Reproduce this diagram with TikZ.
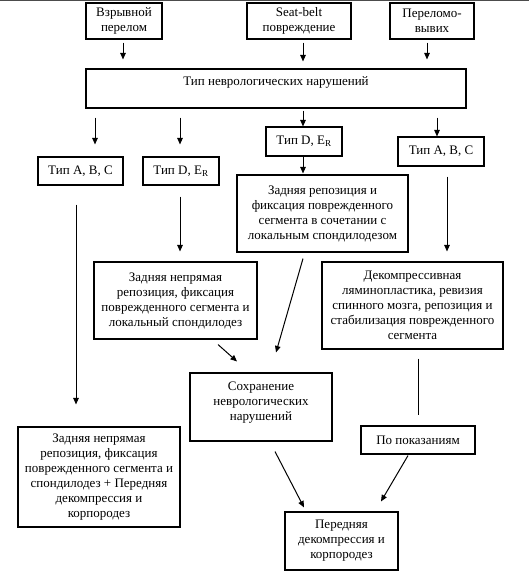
\documentclass[tikz,border=0pt]{standalone}
\usepackage{fontspec}
\setmainfont{Liberation Serif}
\usetikzlibrary{arrows.meta,calc}
\begin{document}
\begin{tikzpicture}[x=1pt,y=-1pt,
  box/.style={draw, line width=1.1pt, inner sep=0pt, align=center, font=\fontsize{13}{15}\selectfont},
  arr/.style={line width=1pt, -{Triangle[length=6.5pt,width=5.5pt]}},
  ln/.style={line width=1pt}]
\useasboundingbox (0,0) rectangle (529,577);
\draw[line width=1.2pt, color=black!70] (0,0.6) -- (529,0.6);

\node[box, minimum width=76pt, minimum height=36pt] (b1) at (124,21) {Взрывной\\перелом};
\node[box, minimum width=104pt, minimum height=36pt] (b2) at (299,21) {Seat-belt\\повреждение};
\node[box, minimum width=84pt, minimum height=36pt] (b3) at (432,21) {Переломо-\\вывих};
\node[box, minimum width=380pt, minimum height=39pt, text height=9pt, text depth=15pt] (T) at (276,88.5) {Тип неврологических нарушений};

\node[box, minimum width=85pt, minimum height=28pt] (tl1) at (80.5,171) {Тип A, B, C};
\node[box, minimum width=76pt, minimum height=28pt] (tl2) at (181,171) {Тип D, E\textsubscript{R}};
\node[box, minimum width=76pt, minimum height=29pt] (tm) at (304,141.5) {Тип D, E\textsubscript{R}};
\node[box, minimum width=86pt, minimum height=29pt] (tr) at (441,151.5) {Тип A, B, C};

\node[box, minimum width=171pt, minimum height=77pt] (zr) at (322.5,213.5) {Задняя репозиция и\\фиксация поврежденного\\сегмента в сочетании с\\локальным спондилодезом};
\node[box, minimum width=163pt, minimum height=77pt] (zn) at (175.5,300.5) {Задняя непрямая\\репозиция, фиксация\\поврежденного сегмента и\\локальный спондилодез};
\node[box, minimum width=181pt, minimum height=87pt] (dk) at (412.5,305.5) {Декомпрессивная\\ляминопластика, ревизия\\спинного мозга, репозиция и\\стабилизация поврежденного\\сегмента};
\node[box, minimum width=142pt, minimum height=68pt, text depth=12pt] (sn) at (261,407) {Сохранение\\неврологических\\нарушений};
\node[box, minimum width=162pt, minimum height=100pt] (bl) at (99,477) {Задняя непрямая\\репозиция, фиксация\\поврежденного сегмента и\\спондилодез + Передняя\\декомпрессия и\\корпородез};
\node[box, minimum width=114pt, minimum height=28pt] (pp) at (418,440) {По показаниям};
\node[box, minimum width=113pt, minimum height=58pt] (pd) at (341.5,541) {Передняя\\декомпрессия и\\корпородез};

% top row to T
\draw[arr] ($(b1.south)+(-1,3)$) -- ($(b1.south |- T.north)+(-1,-9)$);
\draw[arr] ($(b2.south)+(4,3)$) -- ($(b2.south |- T.north)+(4,-7)$);
\draw[arr] ($(b3.south)+(-5,3)$) -- ($(b3.south |- T.north)+(-5,-9)$);
% T to types
\draw[arr] ($(T.south -| tl1.north)+(14.5,9)$) -- ($(tl1.north)+(14.5,-12)$);
\draw[arr] ($(T.south -| tl2.north)+(-1,9)$) -- ($(tl2.north)+(-1,-12)$);
\draw[arr] ($(T.south -| tm.north)+(-1,2)$) -- ($(tm.north)+(-1,0)$);
\draw[arr] ($(T.south -| tr.north)+(-4,9)$) -- ($(tr.north)+(-4,0)$);
% types to treatments
\draw[arr] ($(tm.south)+(-1,0)$) -- ($(tm.south |- zr.north)+(-1,-1)$);
\draw[arr] ($(tl1.south)+(-4.5,19)$) -- ($(tl1.south |- bl.north)+(-4.5,-22)$);
\draw[arr] ($(tl2.south)+(-1,11)$) -- ($(tl2.south |- zn.north)+(-1,-10)$);
\draw[arr] ($(tr.south)+(6,10)$) -- ($(tr.south |- dk.north)+(6,-10)$);
% to Сохранение
\draw[arr] ($(zr.south)+(-19.5,6)$) -- ($(sn.north)+(15,-20)$);
\draw[arr] ($(zn.south)+(42.5,5)$) -- ($(sn.north)+(-24,-11)$);
% right branch
\draw[ln] ($(dk.south)+(5.5,9)$) -- ($(pp.north)+(0,-10)$);
% to Передняя
\draw[arr] ($(sn.south)+(14,10)$) -- ($(pd.north)+(-37.5,-4)$);
\draw[arr] ($(pp.south)+(-10,1)$) -- ($(pd.north)+(39.5,-10)$);
\end{tikzpicture}
\end{document}
